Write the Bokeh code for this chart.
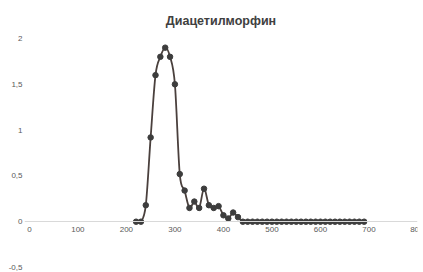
from bokeh.plotting import figure
from bokeh.models import FixedTicker, Range1d
from bokeh.embed import file_html
from bokeh.resources import INLINE

title_text = "Диацетилморфин"
x_vals = [220, 230, 240, 250, 260, 270, 280, 290, 300, 310, 320, 330, 340, 350,
          360, 370, 380, 390, 400, 410, 420, 430] + list(range(440, 700, 10))
y_vals = [0.0, 0.0, 0.18, 0.92, 1.6, 1.8, 1.9, 1.8, 1.5, 0.52, 0.34, 0.15, 0.22, 0.15,
          0.36, 0.18, 0.15, 0.17, 0.07, 0.035, 0.10, 0.05] + [0.0] * 26
x_ticks = [0, 100, 200, 300, 400, 500, 600, 700, 800]
y_ticks = [-0.5, 0, 0.5, 1, 1.5, 2]
y_tick_labels = ["-0,5", "0", "0,5", "1", "1,5", "2"]

TEXT = "#595959"
FONT = "Liberation Sans"

p = figure(width=423, height=272, output_backend="svg", toolbar_location=None,
           x_range=Range1d(-10, 800), y_range=Range1d(-0.5, 2.0),
           min_border_left=24, min_border_right=6, min_border_top=37, min_border_bottom=5)
p.outline_line_color = None
p.background_fill_color = "white"
p.grid.visible = False

p.title.text = title_text
p.title.align = "center"
p.title.text_font = FONT
p.title.text_font_size = "12.5px"
p.title.text_font_style = "bold"
p.title.text_color = "#404040"
p.title.offset = 0
p.title.standoff = 22

# x axis crossing at y = 0
p.xaxis.fixed_location = 0
p.xaxis.ticker = FixedTicker(ticks=x_ticks)
p.xaxis.axis_line_color = "#d9d9d9"
p.xaxis.axis_line_width = 1
p.xaxis.major_tick_line_color = None
p.xaxis.major_tick_out = 0
p.xaxis.major_tick_in = 0
p.xaxis.minor_tick_line_color = None
p.xaxis.major_label_text_font = FONT
p.xaxis.major_label_text_font_size = "8px"
p.xaxis.major_label_text_color = TEXT
p.xaxis.major_label_standoff = 5

p.yaxis.ticker = FixedTicker(ticks=y_ticks)
p.yaxis.major_label_overrides = {t: l for t, l in zip(y_ticks, y_tick_labels)}
p.yaxis.axis_line_color = None
p.yaxis.major_tick_line_color = None
p.yaxis.major_tick_out = 0
p.yaxis.major_tick_in = 0
p.yaxis.minor_tick_line_color = None
p.yaxis.major_label_text_font = FONT
p.yaxis.major_label_text_font_size = "8px"
p.yaxis.major_label_text_color = TEXT
p.yaxis.major_label_standoff = 2

# smoothed line (Catmull-Rom -> cubic Bezier through the data points)
n = len(x_vals)
x0, y0, x1, y1, cx0, cy0, cx1, cy1 = [], [], [], [], [], [], [], []
for i in range(n - 1):
    pm = i - 1 if i > 0 else i
    pp = i + 2 if i + 2 < n else i + 1
    x0.append(x_vals[i]); y0.append(y_vals[i])
    x1.append(x_vals[i + 1]); y1.append(y_vals[i + 1])
    cx0.append(x_vals[i] + (x_vals[i + 1] - x_vals[pm]) / 6)
    cy0.append(y_vals[i] + (y_vals[i + 1] - y_vals[pm]) / 6)
    cx1.append(x_vals[i + 1] - (x_vals[pp] - x_vals[i]) / 6)
    cy1.append(y_vals[i + 1] - (y_vals[pp] - y_vals[i]) / 6)
p.bezier(x0=x0, y0=y0, x1=x1, y1=y1, cx0=cx0, cy0=cy0, cx1=cx1, cy1=cy1,
         line_color="#4a403d", line_width=1.8)
p.scatter(x_vals, y_vals, size=5.5, fill_color="#3d3d3d", line_color="#3d3d3d")

open("out.html", "w").write(file_html(p, INLINE))
